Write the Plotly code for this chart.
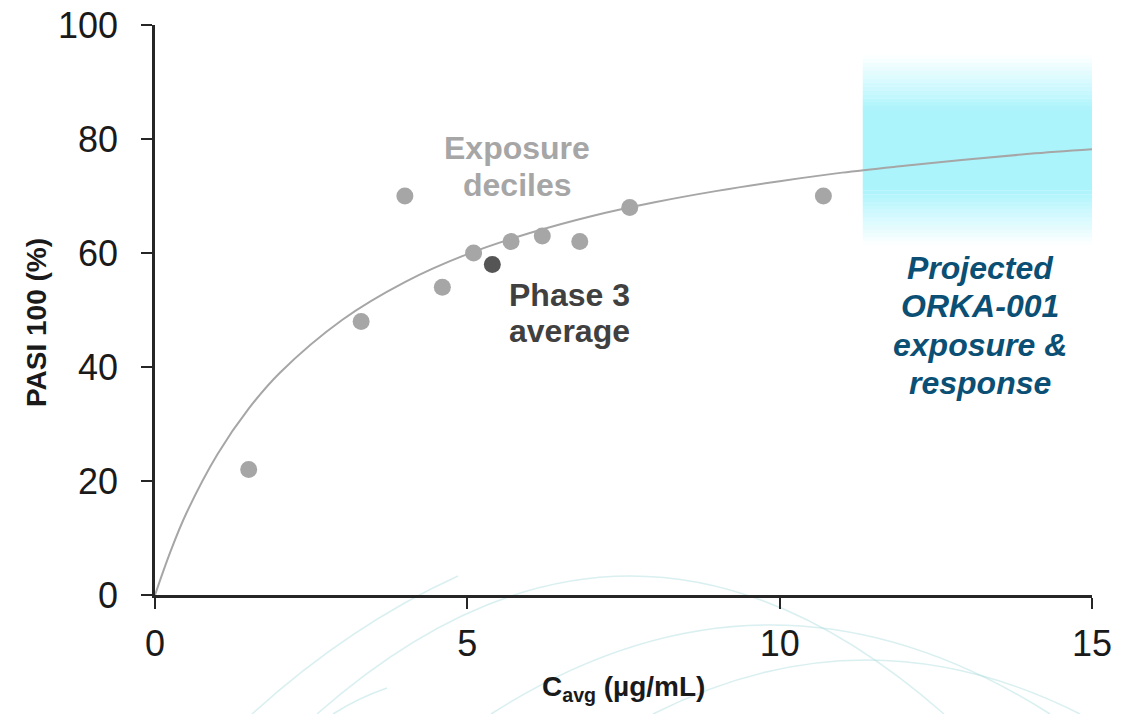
import plotly.graph_objects as go

# ---- data ----
decile_x = [1.5, 3.3, 4.0, 4.6, 5.1, 5.7, 6.2, 6.8, 7.6, 10.7]
decile_y = [22, 48, 70, 54, 60, 62, 63, 62, 68, 70]
phase3_x = [5.4]
phase3_y = [58]
curve_x = [0, 0.25, 0.5, 1, 1.5, 2, 3, 4, 5, 6, 7, 8, 9, 10, 11, 12, 13, 14, 15]
curve_y = [0, 7.7, 14.3, 24.7, 32.7, 39.0, 48.3, 54.9, 59.8, 63.5, 66.5, 68.9, 70.9,
           72.6, 74.1, 75.3, 76.4, 77.4, 78.2]
band_x = [11.33, 15.05]
band_core = [71.0, 85.1]
band_fade = [61.4, 94.7]
x_ticks = [0, 5, 10, 15]
y_ticks = [0, 20, 40, 60, 80, 100]
deciles_label = ["Exposure", "deciles"]
phase3_label = ["Phase 3", "average"]
projected_label = ["Projected", "ORKA-001", "exposure &amp;", "response"]

FONT = "Liberation Sans, Arial, sans-serif"
W, H = 1128, 714
OFF = 8  # page body margin offset
# desired plot area in page pixels
PL, PR, PT, PB = 155, 1092, 25, 595
L = PL - OFF
T = PT - OFF
R = W + OFF - PR
B = H + OFF - PB
PW, PH = PR - PL, PB - PT


def px(xp, yp):
    # page pixel -> paper coords
    return ((xp - PL) / PW, (PB - yp) / PH)


def dx(xpix):
    return (xpix - PL) / PW * 15


def dy(ypix):
    return (PB - ypix) / PH * 100


fig = go.Figure()

shapes = []
# gradient band
n = 14
for i in range(n):
    y0 = band_fade[1] - (band_fade[1] - band_core[1]) * i / n
    y1 = band_fade[1] - (band_fade[1] - band_core[1]) * (i + 1) / n
    shapes.append(dict(type="rect", xref="x", yref="y", x0=band_x[0], x1=band_x[1],
                       y0=y1, y1=y0, fillcolor="rgb(172,244,252)",
                       opacity=(i + 0.5) / n, line=dict(width=0), layer="below"))
shapes.append(dict(type="rect", xref="x", yref="y", x0=band_x[0], x1=band_x[1],
                   y0=band_core[0], y1=band_core[1], fillcolor="rgb(172,244,252)",
                   opacity=1, line=dict(width=0), layer="below"))
for i in range(n):
    y1 = band_core[0] - (band_core[0] - band_fade[0]) * i / n
    y0 = band_core[0] - (band_core[0] - band_fade[0]) * (i + 1) / n
    shapes.append(dict(type="rect", xref="x", yref="y", x0=band_x[0], x1=band_x[1],
                       y0=y0, y1=y1, fillcolor="rgb(172,244,252)",
                       opacity=1 - (i + 0.5) / n, line=dict(width=0), layer="below"))

# decorative faint arcs (page pixels)
arcs = [
    [(317, 714), (630, 438), (944, 714)],
    [(491, 714), (770, 536), (1050, 714)],
    [(653, 714), (866, 606), (1080, 714)],
    [(252, 714), (350, 625), (458, 576)],
    [(333, 714), (358, 698), (387, 688)],
]
for a in arcs:
    p0, c, p1 = [px(*q) for q in a]
    path = f"M {p0[0]},{p0[1]} Q {c[0]},{c[1]} {p1[0]},{p1[1]}"
    shapes.append(dict(type="path", xref="paper", yref="paper", path=path,
                       line=dict(color="rgba(170,220,222,0.45)", width=1.5),
                       layer="below"))

fig.add_trace(go.Scatter(x=curve_x, y=curve_y, mode="lines", line_shape="spline",
                         line=dict(color="#a6a6a6", width=2), hoverinfo="skip",
                         showlegend=False))
fig.add_trace(go.Scatter(x=decile_x, y=decile_y, mode="markers",
                         marker=dict(color="#a6a6a6", size=17), showlegend=False))
fig.add_trace(go.Scatter(x=phase3_x, y=phase3_y, mode="markers",
                         marker=dict(color="#555555", size=17), showlegend=False))

annotations = []
for i, t in enumerate(deciles_label):
    annotations.append(dict(x=dx(517), y=dy(148 + 37 * i), xref="x", yref="y",
                            text=f"<b>{t}</b>", showarrow=False,
                            font=dict(family=FONT, size=32, color="#a6a6a6")))
for i, t in enumerate(phase3_label):
    annotations.append(dict(x=dx(507), y=dy(295 + 36 * i), xref="x", yref="y",
                            xanchor="left", text=f"<b>{t}</b>", showarrow=False,
                            font=dict(family=FONT, size=32, color="#404040")))
for i, t in enumerate(projected_label):
    annotations.append(dict(x=dx(980), y=dy(268 + 38.3 * i), xref="x", yref="y",
                            text=f"<b><i>{t}</i></b>", showarrow=False,
                            font=dict(family=FONT, size=32, color="#0b4f74")))
annotations += [
    dict(x=px(36, 0)[0], y=px(0, 322)[1], xref="paper", yref="paper", textangle=-90,
         xanchor="center", yanchor="middle",
         text="<b>PASI 100 (%)</b>", showarrow=False,
         font=dict(family=FONT, size=28, color="#1a1a1a")),
    dict(x=px(623, 0)[0], y=px(0, 688)[1], xref="paper", yref="paper",
         xanchor="center", yanchor="middle",
         text="<b>C<sub>avg</sub> (µg/mL)</b>", showarrow=False,
         font=dict(family=FONT, size=28, color="#1a1a1a")),
]

fig.update_layout(
    width=W, height=H,
    margin=dict(l=L, r=R, t=T, b=B, autoexpand=False),
    paper_bgcolor="white", plot_bgcolor="white",
    shapes=shapes, annotations=annotations,
    font=dict(family=FONT, color="#1a1a1a"),
    xaxis=dict(range=[0, 15], tickvals=x_ticks, showgrid=False, zeroline=False,
               automargin=False, ticklabeloverflow="allow",
               showline=True, linecolor="#262626", linewidth=2.5,
               ticks="outside", ticklen=11, tickwidth=2, tickcolor="#262626",
               tickfont=dict(family=FONT, size=36, color="#1a1a1a"),
               ticklabelstandoff=4),
    yaxis=dict(range=[0, 100], tickvals=y_ticks, showgrid=False, zeroline=False,
               automargin=False, ticklabeloverflow="allow",
               showline=True, linecolor="#262626", linewidth=2.5,
               ticks="outside", ticklen=11, tickwidth=2, tickcolor="#262626",
               tickfont=dict(family=FONT, size=36, color="#1a1a1a"),
               ticklabelstandoff=16),
)

fig.write_html("out.html")
